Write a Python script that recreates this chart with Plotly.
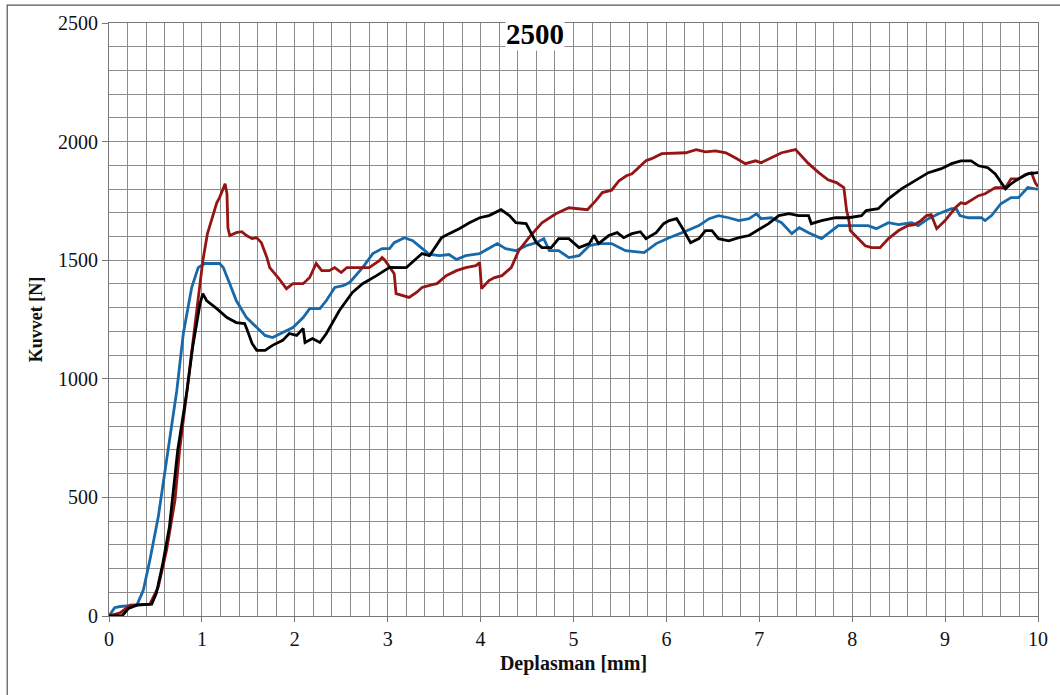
import plotly.graph_objects as go

# ---- data ----
blue_x = [0, 0.06, 0.12, 0.3, 0.37, 0.44, 0.53, 0.6, 0.64, 0.73, 0.8, 0.89, 0.96, 1.03, 1.19, 1.23, 1.30, 1.37,
          1.48, 1.59, 1.68, 1.76, 1.87, 1.98, 2.09, 2.16, 2.27, 2.34, 2.43, 2.52, 2.59, 2.73, 2.84, 2.94, 3.02,
          3.07, 3.18, 3.27, 3.36, 3.45, 3.56, 3.66, 3.74, 3.84, 3.99, 4.09, 4.18, 4.27, 4.38, 4.49, 4.60, 4.68,
          4.74, 4.84, 4.95, 5.06, 5.17, 5.27, 5.41, 5.56, 5.76, 5.89, 6.03, 6.17, 6.35, 6.46, 6.56, 6.67, 6.78,
          6.89, 6.97, 7.02, 7.13, 7.24, 7.35, 7.43, 7.53, 7.67, 7.78, 7.85, 7.99, 8.17, 8.26, 8.39, 8.50, 8.64,
          8.71, 8.82, 8.93, 9.07, 9.12, 9.16, 9.25, 9.39, 9.43, 9.50, 9.60, 9.71, 9.79, 9.89, 9.97, 10.0]
blue_y = [0, 35, 40, 46, 109, 236, 417, 600, 700, 951, 1191, 1385, 1469, 1486, 1486, 1469, 1401, 1330,
          1258, 1216, 1183, 1174, 1195, 1216, 1258, 1296, 1296, 1330, 1385, 1393, 1406, 1469, 1528, 1549, 1549,
          1574, 1595, 1582, 1553, 1524, 1519, 1524, 1503, 1519, 1528, 1549, 1570, 1549, 1540, 1561, 1574, 1591,
          1540, 1540, 1511, 1519, 1561, 1570, 1570, 1540, 1532, 1570, 1595, 1616, 1646, 1675, 1688, 1679, 1667,
          1675, 1696, 1675, 1679, 1658, 1612, 1637, 1616, 1591, 1625, 1646, 1646, 1646, 1633, 1658, 1650, 1658,
          1646, 1675, 1696, 1717, 1717, 1688, 1679, 1679, 1667, 1688, 1738, 1764, 1764, 1806, 1801, 1800]

red_x = [0, 0.12, 0.23, 0.44, 0.53, 0.62, 0.71, 0.76, 0.84, 1.01, 1.06, 1.12, 1.16, 1.19, 1.25, 1.27, 1.28,
         1.30, 1.37, 1.43, 1.48, 1.54, 1.59, 1.64, 1.70, 1.73, 1.82, 1.91, 1.98, 2.09, 2.16, 2.23, 2.29, 2.37,
         2.43, 2.50, 2.56, 2.70, 2.80, 2.91, 2.94, 2.97, 3.04, 3.07, 3.09, 3.16, 3.23, 3.31, 3.37, 3.48, 3.53,
         3.63, 3.74, 3.84, 3.95, 3.99, 4.01, 4.09, 4.15, 4.23, 4.33, 4.41, 4.52, 4.66, 4.81, 4.95, 5.06, 5.15,
         5.24, 5.31, 5.41, 5.49, 5.57, 5.63, 5.78, 5.84, 5.95, 6.10, 6.21, 6.32, 6.42, 6.53, 6.64, 6.74, 6.85,
         6.96, 7.02, 7.13, 7.24, 7.39, 7.42, 7.53, 7.64, 7.74, 7.83, 7.91, 7.94, 7.96, 7.98, 8.07, 8.14, 8.21,
         8.30, 8.39, 8.50, 8.60, 8.67, 8.74, 8.80, 8.85, 8.91, 9.00, 9.11, 9.17, 9.22, 9.36, 9.43, 9.54, 9.65,
         9.71, 9.79, 9.86, 9.93, 9.97, 10.0]
red_y = [0, 13, 46, 50, 122, 278, 488, 700, 951, 1498, 1612, 1696, 1742, 1764, 1822, 1780, 1637,
         1604, 1616, 1620, 1604, 1591, 1595, 1574, 1511, 1469, 1427, 1380, 1401, 1401, 1427, 1486, 1456, 1456,
         1469, 1448, 1469, 1469, 1469, 1498, 1511, 1500, 1456, 1443, 1359, 1351, 1343, 1364, 1385, 1397, 1401,
         1435, 1456, 1469, 1477, 1490, 1380, 1414, 1427, 1435, 1469, 1540, 1595, 1658, 1696, 1721, 1717, 1713,
         1751, 1785, 1795, 1835, 1856, 1864, 1919, 1928, 1949, 1953, 1953, 1966, 1957, 1961, 1953, 1932, 1907,
         1919, 1911, 1932, 1953, 1966, 1953, 1907, 1869, 1839, 1827, 1806, 1709, 1679, 1625, 1591, 1561, 1553,
         1553, 1591, 1625, 1646, 1650, 1667, 1688, 1692, 1633, 1667, 1721, 1742, 1738, 1772, 1780, 1806, 1806,
         1843, 1843, 1860, 1869, 1827, 1810]

black_x = [0, 0.14, 0.21, 0.30, 0.46, 0.51, 0.58, 0.65, 0.74, 0.84, 0.90, 0.98, 1.01, 1.05, 1.16, 1.27, 1.37,
           1.46, 1.49, 1.54, 1.59, 1.68, 1.76, 1.87, 1.94, 2.02, 2.09, 2.11, 2.19, 2.27, 2.34, 2.48, 2.62, 2.73,
           2.88, 3.02, 3.20, 3.37, 3.45, 3.58, 3.66, 3.77, 3.88, 3.99, 4.09, 4.22, 4.31, 4.38, 4.49, 4.60, 4.66,
           4.76, 4.84, 4.95, 5.06, 5.17, 5.22, 5.27, 5.38, 5.47, 5.54, 5.63, 5.72, 5.78, 5.89, 5.97, 6.03, 6.11,
           6.17, 6.26, 6.35, 6.42, 6.49, 6.56, 6.67, 6.78, 6.89, 7.02, 7.10, 7.21, 7.32, 7.42, 7.53, 7.56, 7.67,
           7.82, 7.96, 8.10, 8.15, 8.28, 8.39, 8.53, 8.68, 8.82, 8.96, 9.07, 9.17, 9.28, 9.36, 9.46, 9.54, 9.60,
           9.65, 9.71, 9.79, 9.89, 9.98, 10.0]
black_y = [0, 0, 32, 46, 50, 97, 223, 375, 700, 951, 1132, 1317, 1359, 1330, 1296, 1258, 1237,
           1233, 1204, 1149, 1120, 1120, 1141, 1162, 1191, 1183, 1212, 1153, 1170, 1153, 1191, 1288, 1364, 1401,
           1435, 1470, 1469, 1528, 1519, 1595, 1612, 1633, 1658, 1679, 1688, 1713, 1688, 1658, 1654, 1574, 1553,
           1553, 1591, 1591, 1553, 1570, 1604, 1570, 1604, 1616, 1595, 1612, 1620, 1591, 1616, 1654, 1667, 1675,
           1637, 1574, 1591, 1625, 1625, 1591, 1582, 1595, 1604, 1633, 1654, 1688, 1696, 1688, 1688, 1654, 1667,
           1679, 1679, 1688, 1709, 1717, 1759, 1801, 1835, 1869, 1886, 1907, 1919, 1919, 1898, 1890, 1864, 1827,
           1801, 1822, 1843, 1864, 1869, 1869]

x_ticks = [0, 1, 2, 3, 4, 5, 6, 7, 8, 9, 10]
y_ticks = [0, 500, 1000, 1500, 2000, 2500]

title_text = "2500"
x_title = "Deplasman [mm]"
y_title = "Kuvvet [N]"

FONT = "Liberation Serif"
GRID = "#8c8c8c"

fig = go.Figure()
fig.add_trace(go.Scatter(x=blue_x, y=blue_y, mode="lines", line=dict(color="#1769aa", width=2.8), showlegend=False))
fig.add_trace(go.Scatter(x=red_x, y=red_y, mode="lines", line=dict(color="#951414", width=2.8), showlegend=False))
fig.add_trace(go.Scatter(x=black_x, y=black_y, mode="lines", line=dict(color="#000000", width=2.8), showlegend=False))

fig.update_layout(
    width=1060, height=695,
    margin=dict(l=109, r=20, t=22, b=79),
    paper_bgcolor="white", plot_bgcolor="white",
    font=dict(family=FONT, size=19, color="#111"),
    xaxis=dict(
        range=[0, 10], tickvals=x_ticks, ticktext=[str(v) for v in x_ticks],
        showgrid=True, gridcolor=GRID, gridwidth=1,
        minor=dict(dtick=0.2, showgrid=True, gridcolor=GRID, gridwidth=1),
        showline=True, linecolor="#777", linewidth=1, mirror=True,
        ticks="outside", ticklen=5, tickcolor="#777",
        zeroline=False,
        title=dict(text="<b>" + x_title + "</b>", font=dict(family=FONT, size=20, color="#111"), standoff=6),
        tickfont=dict(family=FONT, size=20, color="#111"),
    ),
    yaxis=dict(
        range=[0, 2500], tickvals=y_ticks, ticktext=[str(v) for v in y_ticks],
        showgrid=True, gridcolor=GRID, gridwidth=1,
        minor=dict(dtick=100, showgrid=True, gridcolor=GRID, gridwidth=1),
        showline=True, linecolor="#777", linewidth=1, mirror=True,
        ticks="outside", ticklen=6, tickcolor="#777",
        zeroline=False,
        title=dict(text="<b>" + y_title + "</b>", font=dict(family=FONT, size=18, color="#111"), standoff=10),
        tickfont=dict(family=FONT, size=20, color="#111"),
    ),
    annotations=[dict(
        text="<b>" + title_text + "</b>", x=0.459, y=1.0, xref="paper", yref="paper",
        xanchor="center", yanchor="top", showarrow=False, yshift=6,
        font=dict(family=FONT, size=29, color="#000"), bgcolor="white", borderpad=0,
    )],
    shapes=[dict(
        type="rect", xref="paper", yref="paper",
        x0=(7 - 109) / 931, x1=1.2, y0=-0.3, y1=(616 - 4) / 594,
        line=dict(color="#555", width=1.2), fillcolor="rgba(0,0,0,0)", layer="below",
    )],
)

fig.write_html("out.html")
